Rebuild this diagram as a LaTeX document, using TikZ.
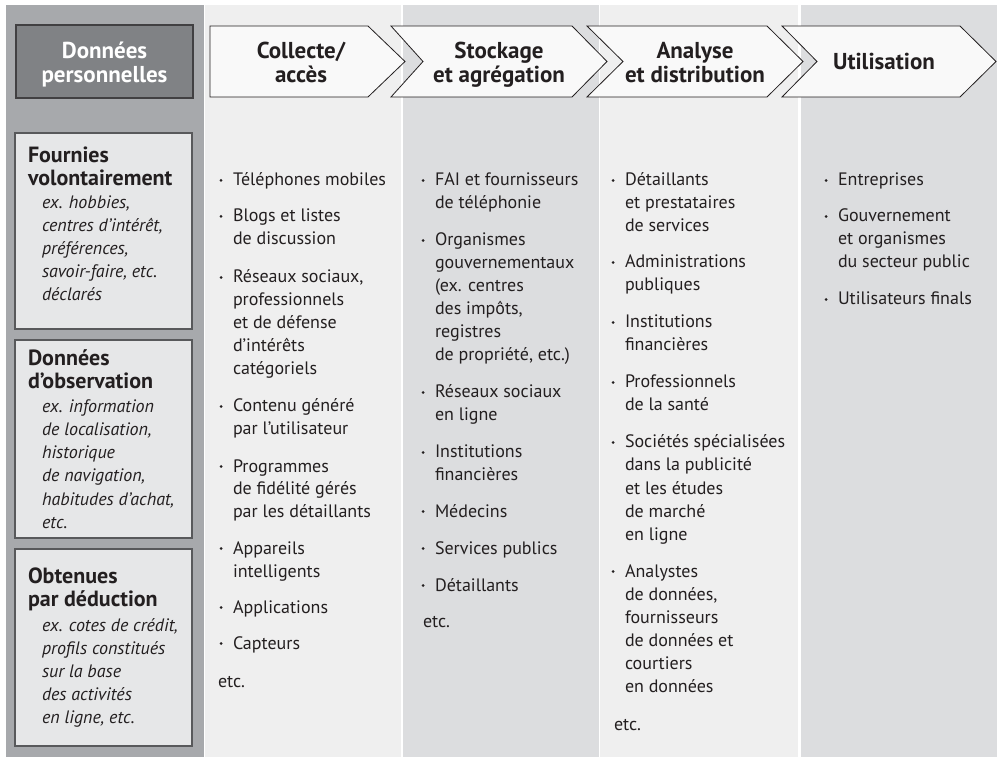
\documentclass[tikz,border=0pt]{standalone}
\usepackage{fontspec}
\setmainfont{PT Sans}
\definecolor{ink}{HTML}{231F20}
\definecolor{colA}{HTML}{A7A9AC}
\definecolor{colL}{HTML}{EFEFEF}
\definecolor{colD}{HTML}{DCDDDF}
\definecolor{hdrfill}{HTML}{808285}
\definecolor{hdrline}{HTML}{414042}
\definecolor{boxfill}{HTML}{E6E7E8}
\definecolor{boxline}{HTML}{58595B}
\definecolor{chevfill}{HTML}{F9F9F9}
\newcommand\txtlines[5]{%
  \foreach \mytxt [count=\k from 0] in {#5} {\node[#1] (#2-\k) at (#3,{#4+23*\k}) {\mytxt};}}
\newcommand\bitem[4]{%
  \node[bul] (#1-b) at ({#2-12},{#3-5.5}) {};
  \txtlines{txt}{#1}{#2}{#3}{#4}}
\begin{document}
\begin{tikzpicture}[x=1pt,y=-1pt,
  txt/.style={anchor=base west, inner sep=0, outer sep=0, text=ink, font=\fontsize{18}{20}\selectfont},
  ttl/.style={anchor=base west, inner sep=0, outer sep=0, text=ink, font=\bfseries\fontsize{22}{24}\selectfont},
  itl/.style={anchor=base west, inner sep=0, outer sep=0, text=ink, font=\itshape\fontsize{18}{20}\selectfont},
  hdr/.style={anchor=base, inner sep=0, outer sep=0, text=ink, font=\bfseries\fontsize{23}{24}\selectfont},
  bul/.style={circle, fill=ink, inner sep=0, minimum size=3pt},
  chev/.style={draw=ink, fill=chevfill, line width=0.8pt, line join=miter},
  lbox/.style={draw=boxline, fill=boxfill, line width=1.3pt},
  hbox/.style={draw=hdrline, fill=hdrfill, line width=1.3pt}]
\useasboundingbox (0,0) rectangle (997,759);
% column backgrounds
\fill[colA] (6,5) rectangle (203.5,757);
\fill[colL] (205,5) rectangle (401,757);
\fill[colD] (402.5,5) rectangle (598.5,757);
\fill[colL] (600,5) rectangle (798,757);
\fill[colD] (800.5,5) rectangle (997,757);
% header box
\draw[hbox] (16,25) rectangle (193,98);
\node[hdr, text=white] (h1) at (104.5,59) {Données};
\node[hdr, text=white] (h2) at (104.5,83) {personnelles};
% chevrons
\draw[chev] (210,26) -- (368,26) -- (405,61.5) -- (368,97) -- (210,97) -- cycle;
\draw[chev] (391,26) -- (572,26) -- (607,61.5) -- (572,97) -- (391,97) -- (423,61.5) -- cycle;
\draw[chev] (587,26) -- (767,26) -- (803,61.5) -- (767,97) -- (587,97) -- (623,61.5) -- cycle;
\draw[chev] (782,26) -- (960,26) -- (996,61.5) -- (960,97) -- (782,97) -- (817,61.5) -- cycle;
\node[hdr] (c1a) at (301,59) {Collecte/};
\node[hdr] (c1b) at (301,83) {accès};
\node[hdr] (c2a) at (499,59) {Stockage};
\node[hdr] (c2b) at (499,83) {et agrégation};
\node[hdr] (c3a) at (695,59) {Analyse};
\node[hdr] (c3b) at (695,83) {et distribution};
\node[hdr] (c4a) at (884,70) {Utilisation};
% left boxes
\draw[lbox] (15,133) rectangle (192,329);
\draw[lbox] (15,340) rectangle (192,538);
\draw[lbox] (15,549) rectangle (192,746);
\txtlines{ttl}{b1t}{28}{163}{{Fournies},{volontairement}}
\txtlines{itl}{b1i}{42}{209}{{ex. hobbies,},{centres d’intérêt,},{préférences,},{savoir-faire, etc.},{déclarés}}
\txtlines{ttl}{b2t}{28}{366}{{Données},{d’observation}}
\txtlines{itl}{b2i}{42}{413}{{ex. information},{de localisation,},{historique},{de navigation,},{habitudes d’achat,},{etc.}}
\txtlines{ttl}{b3t}{28}{583}{{Obtenues},{par déduction}}
\txtlines{itl}{b3i}{42}{631}{{ex. cotes de crédit,},{profils constitués},{sur la base},{des activités},{en ligne, etc.}}
% column 1
\bitem{a1}{233}{186}{{Téléphones mobiles}}
\bitem{a2}{233}{222}{{Blogs et listes},{de discussion}}
\bitem{a3}{233}{283}{{Réseaux sociaux,},{professionnels},{et de défense},{d’intérêts},{catégoriels}}
\bitem{a4}{233}{412}{{Contenu généré},{par l’utilisateur}}
\bitem{a5}{233}{472}{{Programmes},{de fidélité gérés},{par les détaillants}}
\bitem{a6}{233}{554}{{Appareils},{intelligents}}
\bitem{a7}{233}{613}{{Applications}}
\bitem{a8}{233}{649}{{Capteurs}}
\node[txt] (a9) at (218,687) {etc.};
% column 2
\bitem{s1}{435}{186}{{FAI et fournisseurs},{de téléphonie}}
\bitem{s2}{435}{246}{{Organismes},{gouvernementaux},{(ex. centres},{des impôts,},{registres},{de propriété, etc.)}}
\bitem{s3}{435}{398}{{Réseaux sociaux},{en ligne}}
\bitem{s4}{435}{458}{{Institutions},{financières}}
\bitem{s5}{435}{517}{{Médecins}}
\bitem{s6}{435}{554}{{Services publics}}
\bitem{s7}{435}{591}{{Détaillants}}
\node[txt] (s8) at (423,627) {etc.};
% column 3
\bitem{d1}{625}{186}{{Détaillants},{et prestataires},{de services}}
\bitem{d2}{625}{268}{{Administrations},{publiques}}
\bitem{d3}{625}{328}{{Institutions},{financières}}
\bitem{d4}{625}{388}{{Professionnels},{de la santé}}
\bitem{d5}{625}{448}{{Sociétés spécialisées},{dans la publicité},{et les études},{de marché},{en ligne}}
\bitem{d6}{625}{577}{{Analystes},{de données,},{fournisseurs},{de données et},{courtiers},{en données}}
\node[txt] (d7) at (614,730) {etc.};
% column 4
\bitem{u1}{838}{186}{{Entreprises}}
\bitem{u2}{838}{222}{{Gouvernement},{et organismes},{du secteur public}}
\bitem{u3}{838}{305}{{Utilisateurs finals}}
\end{tikzpicture}
\end{document}
